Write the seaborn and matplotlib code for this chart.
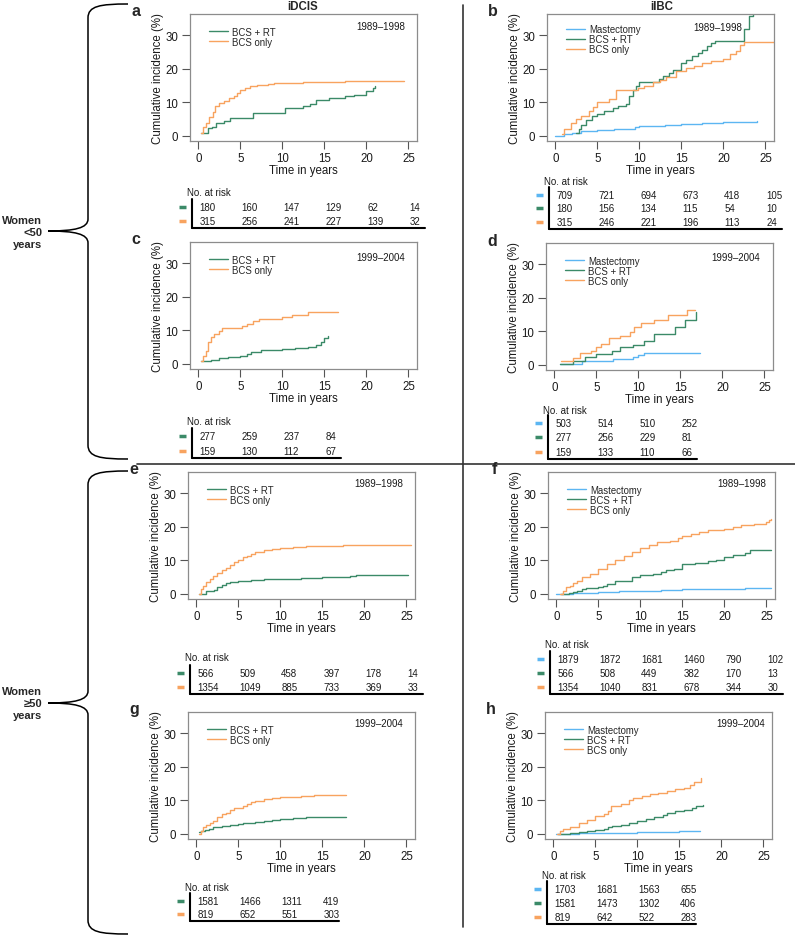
import matplotlib
matplotlib.use("Agg")
import matplotlib.pyplot as plt
import matplotlib.transforms as mtransforms
from matplotlib.lines import Line2D
from matplotlib.path import Path
from matplotlib.patches import PathPatch
import seaborn as sns

# ---- curve data (time in years, cumulative incidence %) ----
# a: iDCIS, women <50, 1989-1998
a_rt_t = [0.3, 1.1, 1.6, 2.1, 3.0, 3.8, 6.5, 10.3, 12.5, 13.3, 14.0, 15.5, 17.5, 18.5, 20.0, 20.8, 21.0]
a_rt_v = [0.8, 2.3, 2.6, 3.8, 4.5, 5.3, 6.8, 8.3, 8.8, 9.5, 10.7, 11.3, 12.0, 12.3, 13.5, 14.2, 15.0]
a_bcs_t = [0.3, 0.5, 0.9, 1.3, 1.7, 2.0, 2.5, 3.0, 3.6, 4.2, 4.6, 5.0, 5.6, 6.2, 7.0, 8.3, 9.0, 12.5, 17.5, 24.5]
a_bcs_v = [1.0, 2.8, 4.0, 5.5, 7.0, 9.0, 9.8, 10.5, 11.3, 11.8, 12.8, 13.6, 14.3, 14.8, 15.1, 15.5, 15.9, 16.1, 16.4, 16.4]

# b: iIBC, women <50, 1989-1998
b_mast_t = [0.0, 1.0, 2.0, 3.0, 5.0, 7.0, 9.5, 10.0, 13.0, 15.0, 17.5, 20.0, 22.0, 24.0]
b_mast_v = [0.0, 0.5, 1.0, 1.4, 1.9, 2.2, 2.6, 3.0, 3.3, 3.5, 3.8, 4.1, 4.3, 4.5]
b_rt_t = [2.5, 2.8, 3.1, 3.6, 4.4, 5.0, 5.8, 6.8, 7.5, 8.4, 8.8, 9.2, 9.6, 10.0, 11.6, 12.3, 12.8,
          13.5, 14.0, 15.0, 15.5, 16.3, 17.0, 17.5, 18.0, 18.5, 19.0, 22.3, 22.5, 23.0, 23.5]
b_rt_v = [0.8, 2.0, 3.4, 4.9, 6.0, 6.6, 7.4, 8.4, 8.8, 9.4, 12.0, 13.6, 15.0, 16.0, 16.0, 17.0, 18.0,
          18.8, 19.7, 21.8, 22.8, 23.8, 24.8, 25.8, 26.9, 27.6, 28.4, 28.4, 32.0, 35.8, 37.0]
b_bcs_t = [0.8, 1.0, 1.9, 2.5, 3.1, 4.0, 4.5, 5.0, 6.4, 7.2, 9.2, 9.8, 10.5, 11.6, 12.5, 13.2, 14.4,
           15.6, 16.5, 17.5, 18.5, 20.0, 20.8, 21.5, 22.0, 22.5, 26.0]
b_bcs_v = [0.5, 2.0, 3.9, 5.0, 6.0, 7.5, 8.5, 10.1, 11.0, 13.6, 13.6, 14.4, 15.0, 16.0, 16.8, 17.6, 19.4,
           20.3, 21.0, 21.8, 22.5, 23.0, 24.5, 25.5, 27.0, 28.0, 28.0]

# c: iDCIS, women <50, 1999-2004
c_rt_t = [0.3, 1.5, 2.5, 3.5, 5.0, 5.8, 6.3, 7.5, 10.0, 11.5, 13.0, 14.0, 14.6, 15.0, 15.4]
c_rt_v = [1.0, 1.3, 1.7, 2.0, 2.4, 3.0, 3.7, 4.1, 4.4, 4.7, 5.0, 5.5, 6.5, 7.6, 8.2]
c_bcs_t = [0.3, 0.5, 0.9, 1.2, 1.5, 1.9, 2.4, 2.8, 5.2, 5.8, 6.5, 7.2, 10.0, 11.2, 13.0, 16.6]
c_bcs_v = [0.8, 2.5, 4.0, 6.5, 8.0, 9.0, 9.8, 10.8, 11.3, 12.0, 12.8, 13.4, 14.0, 14.6, 15.6, 15.6]

# d: iIBC, women <50, 1999-2004
d_mast_t = [0.7, 3.3, 7.0, 9.4, 10.0, 10.7, 17.3]
d_mast_v = [0.4, 1.2, 1.9, 2.4, 3.0, 3.5, 3.6]
d_rt_t = [0.7, 2.2, 3.7, 5.0, 6.8, 7.8, 9.4, 10.7, 11.8, 14.3, 15.5, 16.5, 16.8]
d_rt_v = [0.4, 1.2, 2.4, 3.2, 4.2, 5.4, 6.0, 7.2, 9.3, 11.3, 13.3, 13.3, 15.8]
d_bcs_t = [0.8, 2.2, 3.0, 4.3, 5.0, 5.5, 6.5, 7.8, 9.0, 9.5, 10.3, 11.8, 13.5, 15.8, 16.7]
d_bcs_v = [1.2, 2.2, 3.6, 4.2, 5.2, 6.2, 8.0, 8.7, 9.7, 11.2, 12.5, 13.5, 14.8, 16.5, 16.5]

# e: iDCIS, women >=50, 1989-1998
e_rt_t = [0.3, 1.1, 2.1, 2.5, 3.0, 3.5, 4.0, 5.0, 6.5, 8.0, 10.0, 12.5, 15.0, 18.3, 19.0, 25.2]
e_rt_v = [0.0, 1.0, 1.2, 2.0, 2.8, 3.3, 3.7, 4.0, 4.3, 4.5, 4.6, 4.8, 5.0, 5.2, 5.6, 5.6]
e_bcs_t = [0.3, 0.5, 0.8, 1.2, 1.6, 2.0, 2.5, 3.0, 3.5, 4.0, 4.5, 5.0, 5.5, 6.0, 6.5, 7.0, 8.0, 9.0,
           10.0, 11.5, 13.0, 15.0, 17.5, 20.0, 25.5]
e_bcs_v = [0.0, 1.5, 2.5, 3.5, 4.5, 5.4, 6.3, 7.0, 7.8, 8.6, 9.4, 10.2, 10.9, 11.4, 12.0, 12.4, 13.0,
           13.5, 13.8, 14.0, 14.2, 14.4, 14.5, 14.6, 14.6]

# f: iIBC, women >=50, 1989-1998
f_mast_t = [0.0, 2.0, 5.0, 7.5, 10.0, 12.5, 15.0, 17.5, 20.0, 22.5, 25.6]
f_mast_v = [0.0, 0.4, 0.7, 0.8, 1.0, 1.2, 1.4, 1.5, 1.6, 1.7, 1.8]
f_rt_t = [0.5, 1.5, 2.0, 2.5, 3.0, 3.5, 5.0, 5.5, 6.0, 7.0, 8.5, 9.0, 10.0, 11.5, 12.5, 13.0, 14.0,
          15.0, 16.5, 18.0, 19.0, 20.0, 21.0, 22.5, 23.0, 25.6]
f_rt_v = [0.0, 0.3, 0.7, 1.0, 1.4, 1.8, 2.0, 2.5, 3.0, 3.8, 4.0, 5.0, 5.6, 6.0, 6.5, 7.0, 7.5,
          9.0, 9.3, 9.7, 10.2, 11.0, 11.5, 12.2, 13.0, 13.0]
f_bcs_t = [0.4, 0.8, 1.2, 1.6, 2.0, 2.5, 3.0, 4.0, 5.0, 6.0, 7.0, 8.0, 9.0, 10.0, 11.0, 12.0, 13.5,
           14.5, 15.0, 16.0, 17.0, 18.0, 20.0, 21.0, 22.0, 23.5, 25.0, 25.3, 25.6]
f_bcs_v = [0.0, 1.0, 2.0, 2.5, 3.2, 4.0, 5.0, 6.0, 7.3, 8.8, 10.2, 11.3, 12.6, 13.8, 14.7, 15.4, 15.8,
           16.6, 17.3, 17.8, 18.4, 19.0, 19.5, 20.0, 20.5, 21.0, 21.4, 22.2, 22.3]

# g: iDCIS, women >=50, 1999-2004
g_rt_t = [0.3, 0.6, 1.0, 1.5, 2.0, 3.0, 4.0, 5.0, 5.5, 7.0, 8.0, 9.0, 10.0, 11.5, 13.0, 15.0, 17.8]
g_rt_v = [0.5, 1.0, 1.2, 1.5, 2.0, 2.3, 2.7, 3.1, 3.4, 3.7, 4.0, 4.2, 4.6, 4.8, 5.0, 5.0, 5.0]
g_bcs_t = [0.3, 0.5, 0.8, 1.2, 1.6, 2.0, 2.5, 3.0, 3.5, 4.0, 4.5, 5.5, 6.0, 6.5, 7.0, 8.0, 9.0,
           10.0, 11.0, 12.5, 14.0, 17.8]
g_bcs_v = [0.0, 1.0, 2.0, 2.8, 3.4, 4.0, 5.0, 5.8, 6.3, 7.0, 7.8, 8.3, 8.8, 9.5, 9.9, 10.3, 10.6,
           10.9, 11.1, 11.3, 11.5, 11.5]

# h: iIBC, women >=50, 1999-2004
h_mast_t = [0.3, 3.0, 5.5, 7.5, 10.0, 12.5, 15.0, 17.5]
h_mast_v = [0.0, 0.2, 0.3, 0.4, 0.6, 0.7, 0.9, 1.0]
h_rt_t = [0.5, 2.0, 3.0, 4.0, 5.0, 6.0, 6.5, 7.0, 8.0, 9.0, 10.0, 11.0, 12.0, 13.0, 13.5, 14.5,
          15.5, 16.5, 17.0, 17.8]
h_rt_v = [0.0, 0.2, 0.5, 0.9, 1.3, 1.6, 2.2, 2.5, 2.8, 3.3, 3.9, 4.4, 5.0, 5.7, 6.3, 6.8,
          7.2, 7.8, 8.3, 8.5]
h_bcs_t = [0.4, 0.8, 1.2, 2.0, 3.0, 4.0, 5.0, 6.0, 6.5, 6.9, 8.0, 9.0, 9.5, 10.5, 11.5, 12.5,
           13.5, 14.5, 15.5, 16.3, 16.7, 17.6]
h_bcs_v = [0.0, 1.0, 1.6, 2.2, 3.2, 4.2, 5.3, 6.0, 6.8, 8.2, 9.0, 10.0, 10.8, 11.3, 11.8, 12.3,
           12.8, 13.3, 13.8, 14.5, 15.5, 16.8]

# ---- numbers at risk ----
a_risk_rt = [180, 160, 147, 129, 62, 14]
a_risk_bcs = [315, 256, 241, 227, 139, 32]
b_risk_mast = [709, 721, 694, 673, 418, 105]
b_risk_rt = [180, 156, 134, 115, 54, 10]
b_risk_bcs = [315, 246, 221, 196, 113, 24]
c_risk_rt = [277, 259, 237, 84]
c_risk_bcs = [159, 130, 112, 67]
d_risk_mast = [503, 514, 510, 252]
d_risk_rt = [277, 256, 229, 81]
d_risk_bcs = [159, 133, 110, 66]
e_risk_rt = [566, 509, 458, 397, 178, 14]
e_risk_bcs = [1354, 1049, 885, 733, 369, 33]
f_risk_mast = [1879, 1872, 1681, 1460, 790, 102]
f_risk_rt = [566, 508, 449, 382, 170, 13]
f_risk_bcs = [1354, 1040, 831, 678, 344, 30]
g_risk_rt = [1581, 1466, 1311, 419]
g_risk_bcs = [819, 652, 551, 303]
h_risk_mast = [1703, 1681, 1563, 655]
h_risk_rt = [1581, 1473, 1302, 406]
h_risk_bcs = [819, 642, 522, 283]

risk_times = [0, 5, 10, 15, 20, 25]
groups = ["Mastectomy", "BCS + RT", "BCS only"]
colors = {"Mastectomy": "#5cb6f2", "BCS + RT": "#3b8a68", "BCS only": "#f8a35f"}

# ---- layout (pixels) ----
W, H = 795, 937
AX_W, AX_H = 226.8, 126.6


def fx(x):
    return x / W


def fy(y):
    return 1 - y / H


sns.set_style("ticks")
plt.rcParams["font.family"] = ["Liberation Sans", "DejaVu Sans"]

fig = plt.figure(figsize=(W / 100, H / 100), dpi=100)

panels = [
    dict(letter="a", left=190, top=15, period="1989\u20131998", yr=(0.948, 0.905), leg_y=0.9,
         curves=[("BCS + RT", a_rt_t, a_rt_v), ("BCS only", a_bcs_t, a_bcs_v)],
         risk=[("BCS + RT", a_risk_rt), ("BCS only", a_risk_bcs)], tab=(51, 66, 14)),
    dict(letter="b", left=547, top=15, period="1989\u20131998", yr=(0.86, 0.897), leg_y=0.92,
         curves=[("Mastectomy", b_mast_t, b_mast_v), ("BCS + RT", b_rt_t, b_rt_v), ("BCS only", b_bcs_t, b_bcs_v)],
         risk=[("Mastectomy", b_risk_mast), ("BCS + RT", b_risk_rt), ("BCS only", b_risk_bcs)], tab=(40, 54, 13.7)),
    dict(letter="c", left=190, top=243, period="1999\u20132004", yr=(0.948, 0.88), leg_y=0.9,
         curves=[("BCS + RT", c_rt_t, c_rt_v), ("BCS only", c_bcs_t, c_bcs_v)],
         risk=[("BCS + RT", c_risk_rt), ("BCS only", c_risk_bcs)], tab=(52, 67, 15)),
    dict(letter="d", left=546, top=244, period="1999\u20132004", yr=(0.944, 0.89), leg_y=0.9,
         curves=[("Mastectomy", d_mast_t, d_mast_v), ("BCS + RT", d_rt_t, d_rt_v), ("BCS only", d_bcs_t, d_bcs_v)],
         risk=[("Mastectomy", d_risk_mast), ("BCS + RT", d_risk_rt), ("BCS only", d_risk_bcs)], tab=(40, 53, 14.5)),
    dict(letter="e", left=188, top=473, period="1989\u20131998", yr=(0.948, 0.913), leg_y=0.9,
         curves=[("BCS + RT", e_rt_t, e_rt_v), ("BCS only", e_bcs_t, e_bcs_v)],
         risk=[("BCS + RT", e_risk_rt), ("BCS only", e_risk_bcs)], tab=(58, 74, 14)),
    dict(letter="f", left=548, top=473, period="1989\u20131998", yr=(0.961, 0.913), leg_y=0.9,
         curves=[("Mastectomy", f_mast_t, f_mast_v), ("BCS + RT", f_rt_t, f_rt_v), ("BCS only", f_bcs_t, f_bcs_v)],
         risk=[("Mastectomy", f_risk_mast), ("BCS + RT", f_risk_rt), ("BCS only", f_risk_bcs)], tab=(45, 60, 14)),
    dict(letter="g", left=188, top=713, period="1999\u20132004", yr=(0.948, 0.913), leg_y=0.9,
         curves=[("BCS + RT", g_rt_t, g_rt_v), ("BCS only", g_bcs_t, g_bcs_v)],
         risk=[("BCS + RT", g_risk_rt), ("BCS only", g_risk_bcs)], tab=(48, 62, 13)),
    dict(letter="h", left=545, top=713, period="1999\u20132004", yr=(0.97, 0.913), leg_y=0.9,
         curves=[("Mastectomy", h_mast_t, h_mast_v), ("BCS + RT", h_rt_t, h_rt_v), ("BCS only", h_bcs_t, h_bcs_v)],
         risk=[("Mastectomy", h_risk_mast), ("BCS + RT", h_risk_rt), ("BCS only", h_risk_bcs)], tab=(36, 50, 14)),
]

for p in panels:
    left, top = p["left"], p["top"]
    bottom = top + AX_H
    ax = fig.add_axes([fx(left), fy(bottom), AX_W / W, AX_H / H])
    for name, t, v in p["curves"]:
        sns.lineplot(x=t, y=v, ax=ax, color=colors[name], lw=1.0, drawstyle="steps-post",
                     estimator=None, sort=False, label=name, legend=False)
    ax.set_xlim(-1, 26)
    ax.set_ylim(-1.4, 36.4)
    ax.set_xticks([0, 5, 10, 15, 20, 25])
    ax.set_yticks([0, 10, 20, 30])
    ax.tick_params(length=6, width=0.8, color="#555555", labelsize=8.3, pad=2.5, labelcolor="#1a1a1a")
    for s in ax.spines.values():
        s.set_color("#8c8c8c")
        s.set_linewidth(0.9)
    ax.set_xlabel("Time in years", fontsize=8.3, color="#1a1a1a")
    ax.set_ylabel("Cumulative incidence (%)", fontsize=8.3, color="#1a1a1a")
    ax.xaxis.set_label_coords(0.5, -0.185)
    ax.yaxis.set_label_coords(-0.115, 0.5)
    handles, labels = ax.get_legend_handles_labels()
    ax.legend(handles, labels, loc="upper left", bbox_to_anchor=(0.085, p["leg_y"]), frameon=False,
              fontsize=6.9, handlelength=2.0, handletextpad=0.4, labelspacing=0.0,
              borderaxespad=0, borderpad=0)
    ax.text(p["yr"][0], p["yr"][1], p["period"], transform=ax.transAxes, ha="right", va="center",
            fontsize=7, color="#1a1a1a")
    fig.text(fx(left - 54), fy(top - 3), p["letter"], ha="center", va="center",
             fontsize=11.5, fontweight="bold")

    # number-at-risk table, x in data units, y in figure units
    tr = mtransforms.blended_transform_factory(ax.transData, fig.transFigure)
    nar, row0, gap = p["tab"]
    fig.text(-1.4, fy(bottom + nar), "No. at risk", transform=tr, ha="left", va="center",
             fontsize=7, color="#1a1a1a")
    n_rows = len(p["risk"])
    last_t = risk_times[len(p["risk"][0][1]) - 1]
    for i, (name, vals) in enumerate(p["risk"]):
        yy = fy(bottom + row0 + i * gap)
        for tt, val in zip(risk_times, vals):
            fig.text(tt + 0.1, yy, str(val), transform=tr, ha="left", va="center",
                     fontsize=7, color="#1a1a1a")
        fig.add_artist(Line2D([-2.3, -1.5], [yy, yy], transform=tr, color=colors[name],
                              lw=2.5, solid_capstyle="butt"))
    y_top = fy(bottom + row0 - 8)
    y_bot = fy(bottom + row0 + (n_rows - 1) * gap + 7)
    fig.add_artist(Line2D([-0.8, -0.8], [y_top, y_bot], transform=tr, color="black", lw=1.5))
    fig.add_artist(Line2D([-0.8, last_t + 2.0], [y_bot, y_bot], transform=tr, color="black", lw=1.5))

# column titles
fig.text(fx(303), fy(7), "iDCIS", ha="center", va="center", fontsize=8.3, fontweight="bold")
fig.text(fx(662), fy(7), "iIBC", ha="center", va="center", fontsize=8.3, fontweight="bold")

# dividers
fig.add_artist(Line2D([fx(137), 1.0], [fy(465), fy(465)], transform=fig.transFigure,
                      color="#333333", lw=1.2))
fig.add_artist(Line2D([fx(463), fx(463)], [fy(6), fy(928)], transform=fig.transFigure,
                      color="#333333", lw=1.2))


# curly braces for age groups
def brace(top, mid, bot):
    xv, xe, xt = 88, 128, 48
    pts = [(xe, top), (100, top), (xv, top + 2), (xv, top + 14),
           (xv, mid - 12),
           (xv, mid - 3), (75, mid), (xt, mid),
           (75, mid), (xv, mid + 3), (xv, mid + 12),
           (xv, bot - 14),
           (xv, bot - 2), (100, bot), (xe, bot)]
    codes = [Path.MOVETO, Path.CURVE4, Path.CURVE4, Path.CURVE4,
             Path.LINETO,
             Path.CURVE4, Path.CURVE4, Path.CURVE4,
             Path.CURVE4, Path.CURVE4, Path.CURVE4,
             Path.LINETO,
             Path.CURVE4, Path.CURVE4, Path.CURVE4]
    path = Path([(fx(x), fy(y)) for x, y in pts], codes)
    fig.add_artist(PathPatch(path, transform=fig.transFigure, fill=False, edgecolor="black", lw=1.1))


brace(5, 232, 460)
brace(472, 704, 935)

fig.text(fx(42), fy(233), "Women\n<50\nyears", ha="right", va="center", fontsize=8,
         fontweight="bold", linespacing=1.25, multialignment="right")
fig.text(fx(42), fy(704), "Women\n\u226550\nyears", ha="right", va="center", fontsize=8,
         fontweight="bold", linespacing=1.25, multialignment="right")

fig.savefig("out.png", dpi=100)
